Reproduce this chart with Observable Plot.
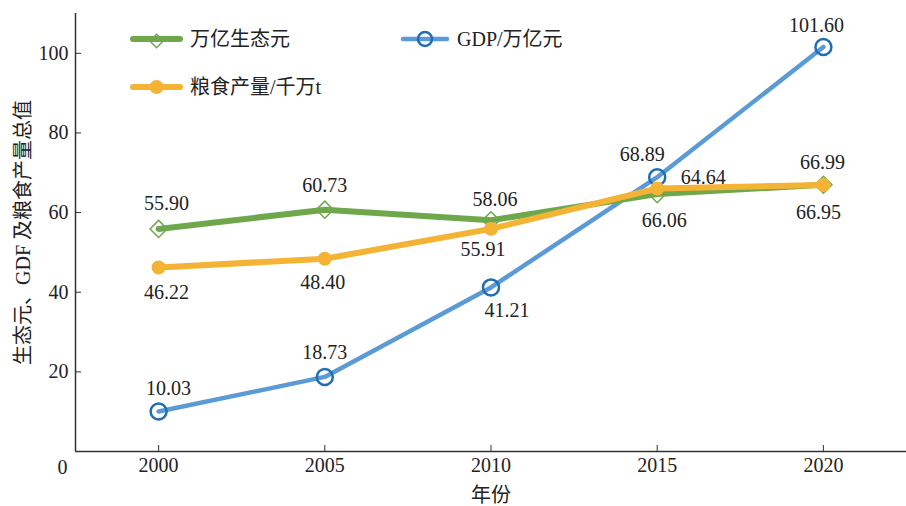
<!DOCTYPE html>
<html><head><meta charset="utf-8">
<script src="https://cdn.jsdelivr.net/npm/d3@7"></script>
<script src="https://cdn.jsdelivr.net/npm/@observablehq/plot@0.6"></script>
<style>
body{margin:0;background:#fff}
#chart{position:relative;width:906px;height:506px;font-family:"Liberation Serif","Noto Sans CJK SC",serif}
#legend{position:absolute;left:0;top:0;pointer-events:none}
</style>
</head><body><div id="chart"></div>
<script>
// ---- data ----
const years = [2000, 2005, 2010, 2015, 2020];
const ecoValues = [55.90, 60.73, 58.06, 64.64, 66.99];
const gdpValues = [10.03, 18.73, 41.21, 68.89, 101.60];
const grainValues = [46.22, 48.40, 55.91, 66.06, 66.95];
const seriesNames = ["万亿生态元", "GDP/万亿元", "粮食产量/千万t"];
const xTicks = [2000, 2005, 2010, 2015, 2020];
const yTicks = [20, 40, 60, 80, 100];
const xTitle = "年份";
const yTitle = "生态元、GDF 及粮食产量总值";

// ---- layout / style ----
const W = 906, H = 506;
const xDomain = [1997.5, 2022.5], yDomain = [0, 110];
const FONT = '"Liberation Serif","Noto Sans CJK SC",serif';
const C = {eco: "#6fa84c", gdp: "#5b9bd5", gdpMark: "#1f6db5", grain: "#f5b335", text: "#222", axis: "#333"};
const ecoOff = [[8,-25],[0,-24],[4,-21],[46,-17],[-1,-22]];
const gdpOff = [[10,-23],[0,-24],[16,23],[-15,-23],[-7,-21]];
const grainOff = [[8,25],[-2,24],[-8,21],[7,32],[-5,28]];

const mk = (vals, off) => years.map((x, i) => ({x, y: vals[i], label: vals[i].toFixed(2), dx: off[i][0], dy: off[i][1]}));
const eco = mk(ecoValues, ecoOff), gdp = mk(gdpValues, gdpOff), grain = mk(grainValues, grainOff);

const labels = (data) => data.map(d => Plot.text([d], {x: "x", y: "y", text: "label", dx: d.dx, dy: d.dy, fontSize: 20, fill: C.text, fontFamily: FONT}));

const plot = Plot.plot({
  width: W, height: H,
  marginLeft: 75, marginTop: 13, marginRight: 0, marginBottom: 55,
  style: {fontFamily: FONT, fontSize: "20px", color: C.text, background: "#fff"},
  x: {domain: xDomain},
  y: {domain: yDomain},
  marks: [
    Plot.axisX({ticks: xTicks, tickSize: 0, tickPadding: 6, tickFormat: d => String(d), fontSize: 20,
      label: xTitle, labelAnchor: "center", labelArrow: "none", labelOffset: 50}),
    Plot.axisY({ticks: yTicks, tickSize: 0, tickPadding: 7, fontSize: 20,
      label: yTitle, labelAnchor: "center", labelArrow: "none", labelOffset: 60}),
    Plot.text([0], {x: xDomain[0], y: d => d, text: d => String(d), dx: -13, dy: 16, fontSize: 20, fill: C.text}),
    Plot.ruleX(xTicks, {x: d => d, y1: 0, y2: 0, insetTop: -6, stroke: C.axis, strokeWidth: 1}),
    Plot.ruleY(yTicks, {y: d => d, x1: xDomain[0], x2: xDomain[0], insetRight: -6, stroke: C.axis, strokeWidth: 1}),
    Plot.ruleX([xDomain[0]], {y1: yDomain[0], y2: yDomain[1], stroke: C.axis, strokeWidth: 1.5}),
    Plot.ruleY([yDomain[0]], {x1: xDomain[0], x2: xDomain[1], stroke: C.axis, strokeWidth: 1.5}),
    Plot.line(gdp, {x: "x", y: "y", stroke: C.gdp, strokeWidth: 4.5}),
    Plot.line(eco, {x: "x", y: "y", stroke: C.eco, strokeWidth: 6}),
    Plot.dot(gdp, {x: "x", y: "y", r: 8, stroke: C.gdpMark, strokeWidth: 2.5, fill: "none"}),
    Plot.dot(eco, {x: "x", y: "y", symbol: "diamond2", r: 7.7, stroke: C.eco, strokeWidth: 1.5, fill: "none"}),
    Plot.line(grain, {x: "x", y: "y", stroke: C.grain, strokeWidth: 6}),
    Plot.dot(grain, {x: "x", y: "y", r: 7, fill: C.grain}),
    ...labels(eco), ...labels(gdp), ...labels(grain)
  ]
});
const chart = document.getElementById("chart");
chart.appendChild(plot);

// ---- legend overlay ----
const legendItems = [
  {name: seriesNames[0], color: C.eco, lw: 6, sym: "diamond", x0: 133, x1: 180, y: 39},
  {name: seriesNames[1], color: C.gdp, lw: 4.5, sym: "circle", x0: 403, x1: 447, y: 39},
  {name: seriesNames[2], color: C.grain, lw: 6, sym: "dot", x0: 133, x1: 180, y: 87}
];
const svg = d3.select(chart).append("svg").attr("id", "legend").attr("width", W).attr("height", H);
for (const it of legendItems) {
  const g = svg.append("g");
  g.append("line").attr("x1", it.x0).attr("x2", it.x1).attr("y1", it.y).attr("y2", it.y)
    .attr("stroke", it.color).attr("stroke-width", it.lw).attr("stroke-linecap", "round");
  const cx = (it.x0 + it.x1) / 2;
  if (it.sym === "diamond") {
    g.append("path").attr("d", d3.symbol(d3.symbolDiamond2, Math.PI * 6 * 6)()).attr("transform", `translate(${cx},${it.y + 2})`)
      .attr("fill", "none").attr("stroke", it.color).attr("stroke-width", 1.5);
  } else if (it.sym === "circle") {
    g.append("circle").attr("cx", cx).attr("cy", it.y).attr("r", 7).attr("fill", "none").attr("stroke", C.gdpMark).attr("stroke-width", 2.5);
  } else {
    g.append("circle").attr("cx", cx).attr("cy", it.y).attr("r", 7).attr("fill", it.color);
  }
  g.append("text").attr("x", it.x1 + 10).attr("y", it.y).attr("dy", "0.35em").attr("font-size", 20)
    .attr("font-family", FONT).attr("fill", C.text).text(it.name);
}
</script>
</body></html>
